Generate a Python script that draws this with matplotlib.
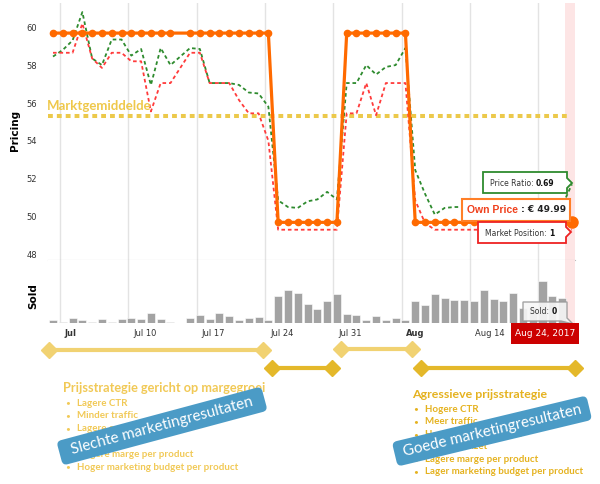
import numpy as np
import matplotlib.pyplot as plt
from matplotlib.patches import Rectangle, Polygon, FancyBboxPatch
from matplotlib.lines import Line2D
from matplotlib.transforms import Affine2D, blended_transform_factory

W, H = 600, 484

#%% data (one value per day, Jul 2 .. Aug 24)
own_price = [59.99, 59.99, 59.99, 59.99, 59.99, 59.99, 59.99, 59.99, 59.99, 59.99,
             59.99, 59.99, 59.99, 59.99, 59.99, 59.99, 59.99, 59.99, 59.99, 59.99,
             59.99, 59.99, 59.99, 49.99, 49.99, 49.99, 49.99, 49.99, 49.99, 49.99,
             59.99, 59.99, 59.99, 59.99, 59.99, 59.99, 59.99, 49.99, 49.99, 49.99,
             49.99, 49.99, 49.99, 49.99, 49.99, 49.99, 49.99, 49.99, 49.99, 49.99,
             49.99, 49.99, 49.99, 49.99]
comp_avg = [58.75, 59.1, 59.6, 61.1, 58.65, 58.3, 59.65, 59.65, 58.8, 59.15,
            57.25, 59.2, 58.3, 58.75, 59.2, 59.15, 57.35, 57.35, 57.35, 57.25,
            56.85, 56.8, 56.1, 51.15, 50.8, 50.75, 51.1, 51.2, 51.6, 51.2,
            57.35, 57.35, 58.3, 57.8, 58.2, 58.3, 59.2, 52.75, 51.5, 50.4,
            50.75, 50.8, 50.8, 50.8, 50.8, 50.8, 50.8, 50.8, 50.8, 50.8,
            50.8, 50.8, 50.85, 52.0]
comp_low = [58.95, 58.95, 58.95, 60.5, 58.65, 58.15, 58.95, 58.95, 58.5, 58.5,
            55.85, 57.35, 57.35, 58.15, 58.95, 58.95, 57.35, 57.35, 57.35, 56.45,
            55.75, 55.75, 54.3, 49.6, 49.6, 49.6, 49.6, 49.6, 49.6, 49.6,
            55.75, 55.75, 57.35, 55.65, 57.35, 57.35, 57.35, 51.15, 49.95, 49.6,
            49.6, 49.6, 49.6, 49.6, 49.6, 49.6, 49.6, 49.6, 49.6, 49.6,
            49.6, 49.6, 49.6, 49.6]
sold = [2, 1, 3.5, 2, 1, 2.5, 0.5, 2.5, 3.5, 2.5,
        6.5, 2.5, 0.5, 0, 3.5, 5.5, 2.5, 6.5, 4.5, 2,
        3.5, 4, 2, 18, 22, 20, 13, 9.5, 15, 19.5,
        6, 5.5, 2, 4.5, 2, 3.5, 2, 14.5, 12, 19.5,
        16.5, 15.5, 15.5, 14.5, 22, 16, 15, 20, 10, 11,
        28, 18, 16.5, 0]
no_marker = [13]
market_avg = 55.6

week_labels = ['Jul', 'Jul 10', 'Jul 17', 'Jul 24', 'Jul 31', 'Aug', 'Aug 14', 'Aug 21']
week_pos = [0.7, 7.7, 14.7, 21.7, 28.6, 35.6, 42.6, 49.5]

left_title = 'Prijsstrategie gericht op margegroei'
left_items = ['Lagere CTR', 'Minder traffic', 'Lagere conversieratio', 'Lagere omzet',
              'Hogere marge per product', 'Hoger marketing budget per product']
right_title = 'Agressieve prijsstrategie'
right_items = ['Hogere CTR', 'Meer traffic', 'Hogere conversieratio', 'Hogere omzet',
               'Lagere marge per product', 'Lager marketing budget per product']

x = np.arange(len(own_price))

def fx(px):
    return px / W

def fy(py):
    return 1 - py / H

#%%
fig = plt.figure(figsize=(6, 4.84), dpi=100)
renderer = fig.canvas.get_renderer()
ax = fig.add_axes([fx(48), fy(260), 527 / W, 257 / H])
axs = fig.add_axes([fx(48), fy(323), 527 / W, 63 / H])

for a in (ax, axs):
    a.set_xlim(-0.51, 53.32)
    for s in a.spines.values():
        s.set_visible(False)
    for g in week_pos:
        a.axvline(g, color='#e3e3e3', lw=1, zorder=0)
    a.axvspan(52.3, 53.3, color='#fde5e5', zorder=0, lw=0)
    a.set_xticks([])

ax.set_ylim(48, 61.58)
ax.spines['bottom'].set_visible(True)
ax.spines['bottom'].set_color('#bdbdbd')
ax.set_yticks(range(48, 61, 2))
ax.tick_params(axis='y', length=0, pad=8, labelsize=6, labelcolor='#333333')
for lbl in ax.get_yticklabels():
    lbl.set_va('bottom')

ax.hlines(market_avg, -0.51, 52.5, color='#ecc94b', lw=2.9, linestyle=(0, (1.2, 1.0)), zorder=2)
ax.plot(x, comp_avg, color='#2e8b2e', lw=1.3, linestyle=(0, (2, 1.6)), zorder=3)
ax.plot(x, comp_low, color='#ff3b3b', lw=1.3, linestyle=(0, (2, 1.6)), zorder=3)
marks = [i for i in x if i not in no_marker]
ax.plot(x, own_price, color='#ff6a00', lw=2.3, marker='o', ms=4.5, markevery=marks, zorder=4)
ax.plot(x[-1], own_price[-1], 'o', color='#ff6a00', ms=8, clip_on=False, zorder=6)

ax.text(-0.6, market_avg + 0.55, 'Marktgemiddelde', color='#efc84a', fontsize=9.5,
        fontweight='bold', family='Lato', ha='left', va='center')

axs.set_ylim(0, 42)
axs.set_yticks([])
axs.bar(x, sold, width=0.82, color='#a3a3a3', edgecolor='white', linewidth=0.4, zorder=2)

trans = blended_transform_factory(axs.transData, axs.transAxes)
for pos, lab in zip(week_pos[:-1], week_labels[:-1]):
    axs.text(pos + 0.5, -0.17, lab, transform=trans, ha='left', va='center', fontsize=6,
             color='#333333', fontweight='bold' if lab in ('Jul', 'Aug') else 'normal')

fig.text(fx(15), fy(130), 'Pricing', rotation=90, ha='center', va='center', fontsize=7.5, fontweight='bold')
fig.text(fx(33), fy(296), 'Sold', rotation=90, ha='center', va='center', fontsize=7.5, fontweight='bold')

#%% tooltips
def poly(pts, **kw):
    p = Polygon([(fx(a), fy(b)) for a, b in pts], closed=True, transform=fig.transFigure, **kw)
    fig.add_artist(p)

def runs(px, py, parts):
    # draw text pieces one after another on one line
    for txt, kw in parts:
        t = fig.text(fx(px), fy(py), txt, va='center', zorder=8, **kw)
        px += t.get_window_extent(renderer).width

plain = dict(fontsize=5.5, color='#333333')
bold = dict(fontsize=5.5, color='#111111', fontweight='bold')

poly([(483, 172), (567, 172), (567, 178), (572, 183), (567, 188), (567, 193), (483, 193)],
     fc='white', ec='#2e8b2e', lw=1.3, zorder=7)
runs(490, 183, [('Price Ratio: ', plain), ('0.69', bold)])

poly([(462, 199), (570, 199), (570, 221), (462, 221)], fc='white', ec='#ff7f27', lw=1.5, zorder=7)
runs(467, 210, [('Own Price', dict(fontsize=7.5, fontweight='bold', color='#f0401c', family='Liberation Sans')),
                (' : € 49.99', dict(fontsize=6.5, fontweight='bold', color='#222222'))])

poly([(478, 222), (566, 222), (566, 227), (571, 232), (566, 237), (566, 243), (478, 243)],
     fc='white', ec='#ee2222', lw=1.3, zorder=7)
runs(485, 233, [('Market Position: ', plain), ('1', bold)])

poly([(523, 302), (567, 302), (567, 318), (573, 324), (561, 321), (523, 321)],
     fc='#f7f7f7', ec='#9a9a9a', lw=1, alpha=0.9, zorder=7)
runs(530, 312, [('Sold: ', plain), ('0', bold)])

fig.add_artist(Rectangle((fx(511), fy(344)), 68 / W, 21 / H, transform=fig.transFigure,
                         fc='#cc0000', ec='none', zorder=7))
fig.text(fx(545), fy(333.5), 'Aug 24, 2017', fontsize=6.5, color='white', ha='center', va='center', zorder=8)

#%% timelines
light, dark = '#f1d272', '#e4b82a'
for x0, x1, yy, c in [(49, 263, 350, light), (272, 332, 368, dark),
                      (341, 412, 349, light), (421, 575, 368, dark)]:
    fig.add_artist(Line2D([fx(x0), fx(x1)], [fy(yy), fy(yy)], transform=fig.transFigure,
                          color=c, lw=3, marker='D', ms=8, zorder=3))

#%% strategy text
fig.text(fx(63), fy(388), left_title, family='Lato', fontweight='bold', fontsize=9.2,
         color='#f1c956', va='center', zorder=3)
for k, item in enumerate(left_items):
    yy = 403 + k * 12.8
    fig.text(fx(65), fy(yy), '•', family='Lato', fontsize=6, color='#f1c956', va='center', zorder=3)
    fig.text(fx(77), fy(yy), item, family='Lato', fontweight='bold', fontsize=7,
             color='#f1c956', va='center', zorder=3)

fig.text(fx(412), fy(394), right_title, family='Lato', fontweight='bold', fontsize=8.9,
         color='#e5b21f', va='center', zorder=3)
for k, item in enumerate(right_items):
    yy = 409 + k * 12.6
    fig.text(fx(413), fy(yy), '•', family='Lato', fontsize=6, color='#e5b21f', va='center', zorder=3)
    fig.text(fx(425), fy(yy), item, family='Lato', fontweight='bold', fontsize=7,
             color='#e5b21f', va='center', zorder=3)

#%% banners
def banner(cx, cy, length, thick, angle, text):
    cyd = H - cy
    box = FancyBboxPatch((cx - length / 2, cyd - thick / 2), length, thick,
                         boxstyle='round,pad=0,rounding_size=5',
                         transform=Affine2D().rotate_deg_around(cx, cyd, angle),
                         fc='#4b9bc6', ec='none', zorder=9)
    fig.add_artist(box)
    fig.text(fx(cx), fy(cy), text, rotation=angle, rotation_mode='anchor', ha='center',
             va='center', family='Lato', fontsize=11, color='white', zorder=10)

banner(162, 426, 212, 25, 15, 'Slechte marketingresultaten')
banner(492, 431, 200, 25, 13.5, 'Goede marketingresultaten')

fig.savefig('out.png', dpi=100)
